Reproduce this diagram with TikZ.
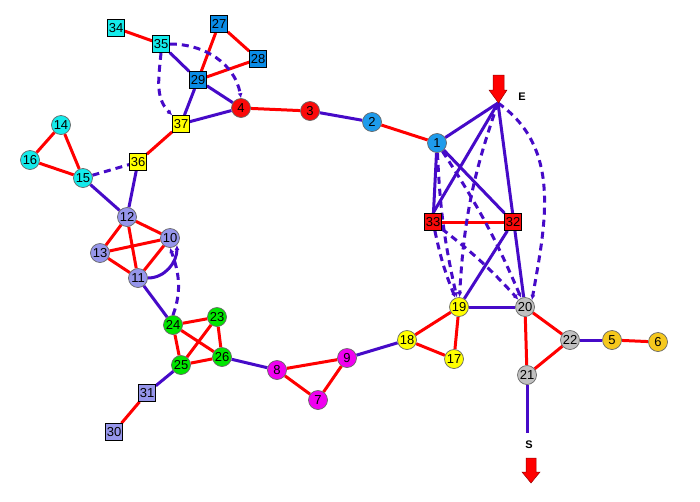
\documentclass[tikz,border=0pt]{standalone}
\usepackage{fontspec}
\setmainfont{Liberation Sans}
\usetikzlibrary{arrows.meta,backgrounds}
\definecolor{eblue}{RGB}{70,10,200}
\definecolor{ered}{RGB}{255,0,0}
\definecolor{ncyan}{RGB}{20,235,235}
\definecolor{nblue}{RGB}{10,140,230}
\definecolor{nlblue}{RGB}{30,155,235}
\definecolor{nperi}{RGB}{150,150,235}
\definecolor{ngreen}{RGB}{0,230,0}
\definecolor{nmag}{RGB}{240,0,240}
\definecolor{nyel}{RGB}{255,255,0}
\definecolor{ngray}{RGB}{192,192,192}
\definecolor{ngold}{RGB}{245,200,30}
\definecolor{nred}{RGB}{250,10,10}
\begin{document}
\begin{tikzpicture}[x=1pt,y=-1pt,
  every node/.style={font=\fontsize{13}{13}\selectfont, text=black, inner sep=0pt},
  cnode/.style={circle, draw=black!60, line width=0.7pt, minimum size=19pt, fill=#1},
  snode/.style={rectangle, draw=black, line width=0.7pt, minimum size=17pt, fill=#1},
  redge/.style={draw=ered, line width=3pt},
  bedge/.style={draw=eblue, line width=3pt},
  dedge/.style={draw=eblue, line width=3pt, dash pattern=on 7pt off 5pt},
  tip/.style={-{Latex[length=5pt,width=5pt]}},
  lab/.style={font=\bfseries\fontsize{11}{11}\selectfont}]
\useasboundingbox (0,0) rectangle (700,501);
% nodes
\node[snode=ncyan] (n34) at (116,28) {34};
\node[snode=ncyan] (n35) at (161,44) {35};
\node[snode=nblue] (n27) at (219,24) {27};
\node[snode=nblue] (n28) at (258,59) {28};
\node[snode=nblue] (n29) at (198,80) {29};
\node[cnode=nred] (n4) at (241,108) {4};
\node[snode=nyel] (n37) at (181,124) {37};
\node[cnode=nred] (n3) at (310,111) {3};
\node[cnode=nlblue] (n2) at (372,122) {2};
\node[cnode=nlblue] (n1) at (437,143) {1};
\node[cnode=ncyan] (n14) at (61,125) {14};
\node[cnode=ncyan] (n16) at (30,160) {16};
\node[cnode=ncyan] (n15) at (83,178) {15};
\node[snode=nyel] (n36) at (138,162) {36};
\node[cnode=nperi] (n12) at (127,217) {12};
\node[cnode=nperi] (n10) at (170,238) {10};
\node[cnode=nperi] (n13) at (100,253) {13};
\node[cnode=nperi] (n11) at (138,278) {11};
\node[cnode=ngreen] (n24) at (173,325) {24};
\node[cnode=ngreen] (n23) at (217,317) {23};
\node[cnode=ngreen] (n25) at (181,365) {25};
\node[cnode=ngreen] (n26) at (222,357) {26};
\node[snode=nperi] (n31) at (147,393) {31};
\node[snode=nperi] (n30) at (114,432) {30};
\node[cnode=nmag] (n8) at (277,370) {8};
\node[cnode=nmag] (n9) at (347,358) {9};
\node[cnode=nmag] (n7) at (318,400) {7};
\node[cnode=nyel] (n18) at (407,340) {18};
\node[cnode=nyel] (n19) at (459,307) {19};
\node[cnode=nyel] (n17) at (454,359) {17};
\node[cnode=ngray] (n20) at (525,307) {20};
\node[cnode=ngray] (n22) at (570,340) {22};
\node[cnode=ngray] (n21) at (527,375) {21};
\node[cnode=ngold] (n5) at (612,340) {5};
\node[cnode=ngold] (n6) at (658,342) {6};
\node[snode=nred] (n33) at (433,222) {33};
\node[snode=nred] (n32) at (513,222) {32};
\coordinate (E) at (498,103);
\coordinate (S) at (527,433);
\node[lab] (Elab) at (522,97) {E};
\node[lab] (Slab) at (529,445) {S};
% arrows E and S
\draw[fill=ered, draw=red!60!black, line width=0.5pt]
  (493,75) -- (504,75) -- (504,90) -- (507,90) -- (498.5,103) -- (489,90) -- (493,90) -- cycle;
\draw[fill=ered, draw=red!60!black, line width=0.5pt]
  (526,458) -- (536,458) -- (536,472) -- (540,472) -- (531,483) -- (522,472) -- (526,472) -- cycle;
\begin{scope}[on background layer]
\fill[white] (0,0) rectangle (700,501);
% red edges
\foreach \a/\b in {34/35,27/29,27/28,28/29,4/3,37/36,14/16,14/15,16/15,12/10,12/13,12/11,13/10,13/11,10/11,24/23,24/25,24/26,23/25,23/26,25/26,31/30,8/9,8/7,7/9,18/19,18/17,17/19,20/22,20/21,21/22,5/6,2/1,33/32}
  \draw[redge] (n\a) -- (n\b);
% blue solid edges
\foreach \a/\b in {35/29,29/4,29/37,4/37,36/12,15/12,11/24,25/31,26/8,9/18,19/20,22/5,3/2,1/33,1/32,32/19}
  \draw[bedge] (n\a) -- (n\b);
\draw[bedge] (n21) -- (S);
\draw[bedge] (n1) -- (E);
\draw[bedge] (n33.north) -- (E);
\draw[bedge] (E) -- (n20);
\draw[bedge,tip] (n11.east) to[out=0,in=-90] (n10.south east);
% dashed edges
\draw[dedge,tip] (n35.south) to[out=-95,in=135] (n37.north west);
\draw[dedge,tip] (n35.east) to[out=0,in=100] (n4.north);
\draw[dedge] (n15) -- (n36);
\draw[dedge,tip] (n24.north) to[out=70,in=-70] (n10.south);
\draw[dedge,tip] (E) to[bend right=8] (n19);
\draw[dedge,tip] (E) to[out=-35,in=80] (n20.north east);
\draw[dedge,tip] (n1) to[bend right=5] (n19);
\draw[dedge,tip] (n1) to[bend left=5] (n20);
\draw[dedge,tip] (n33) to[bend right=5] (n19);
\draw[dedge,tip] (n33) to[bend left=5] (n20);
\end{scope}
\end{tikzpicture}
\end{document}
